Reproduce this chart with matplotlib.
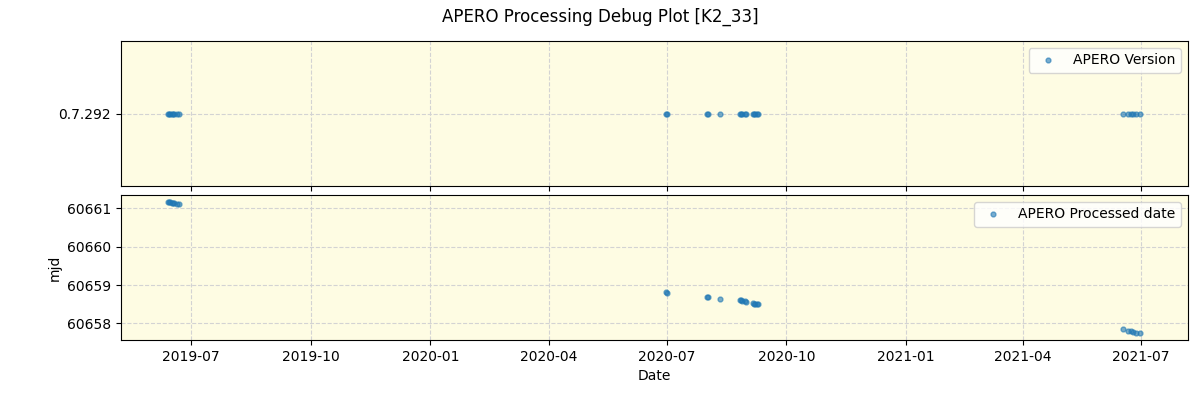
import numpy as np
import pandas as pd
import matplotlib
matplotlib.use('Agg')
import matplotlib.pyplot as plt

# observation dates
obs_dates = ['2019-06-13', '2019-06-14', '2019-06-15', '2019-06-16', '2019-06-17', '2019-06-18',
             '2019-06-20', '2019-06-22',
             '2020-06-30', '2020-07-01',
             '2020-08-01', '2020-08-02',
             '2020-08-11',
             '2020-08-26', '2020-08-27', '2020-08-28', '2020-08-30', '2020-08-31',
             '2020-09-05', '2020-09-06', '2020-09-07', '2020-09-08', '2020-09-09',
             '2021-06-17', '2021-06-21', '2021-06-23', '2021-06-25', '2021-06-27', '2021-06-30']

# processed date (mjd)
proc_mjd = [60661.18, 60661.17, 60661.16, 60661.15, 60661.15, 60661.14, 60661.13, 60661.11,
            60658.82, 60658.80,
            60658.69, 60658.68,
            60658.63,
            60658.61, 60658.60, 60658.59, 60658.58, 60658.57,
            60658.53, 60658.52, 60658.51, 60658.51, 60658.50,
            60657.85, 60657.81, 60657.80, 60657.78, 60657.76, 60657.74]

versions = ['0.7.292'] * len(obs_dates)

x = pd.to_datetime(obs_dates)
bg = '#fefce3'

fig, (ax1, ax2) = plt.subplots(2, 1, figsize=(12, 4), dpi=100, sharex=True)
fig.subplots_adjust(left=0.1008, right=0.99, top=0.8975, bottom=0.15, hspace=0.062)
fig.suptitle('APERO Processing Debug Plot [K2_33]')

ax1.plot(x, versions, 'o', ms=3.5, alpha=0.6, color='#1f77b4', label='APERO Version')
ax1.set_ylim(-1, 1)
ax1.legend(loc='upper right')

ax2.plot(x, proc_mjd, 'o', ms=3.5, alpha=0.6, color='#1f77b4', label='APERO Processed date')
ax2.set_ylabel('mjd')
ax2.set_xlabel('Date')
ax2.ticklabel_format(axis='y', useOffset=False, style='plain')
ax2.legend(loc='upper right')

for ax in (ax1, ax2):
    ax.set_facecolor(bg)
    ax.grid(True, ls='--', color='lightgray')

ax2.set_xlim(pd.Timestamp('2019-05-08'), pd.Timestamp('2021-08-06'))

fig.savefig('out.png')
